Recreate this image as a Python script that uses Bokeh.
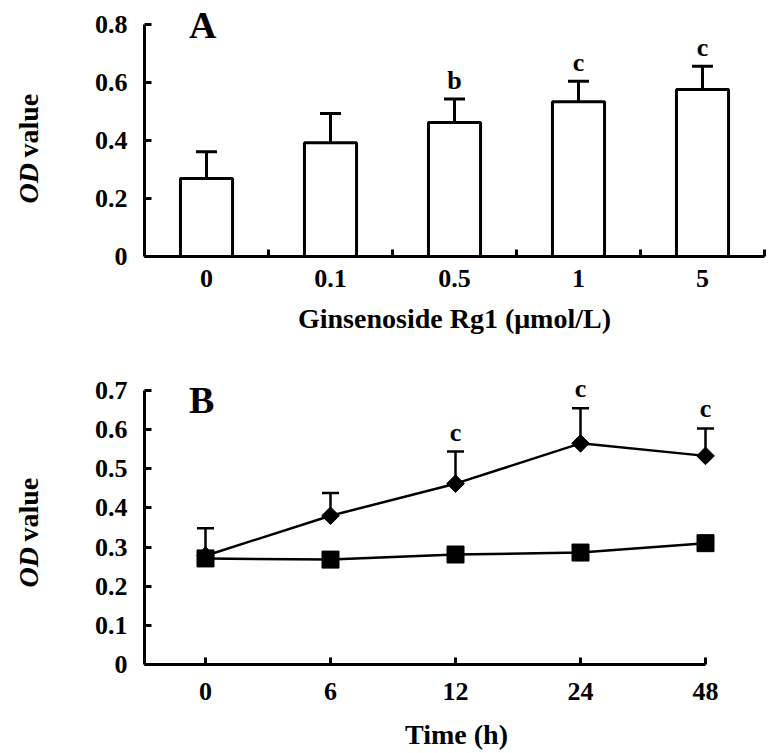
import math
from bokeh.plotting import figure
from bokeh.models import (ColumnDataSource, Whisker, TeeHead, FixedTicker, Label,
                          LabelSet, Range1d)
from bokeh.core.properties import value
from bokeh.layouts import column, row
from bokeh.embed import file_html
from bokeh.resources import INLINE

# ---------------- data ----------------
conc_labels = ["0", "0.1", "0.5", "1", "5"]
od_means_a = [0.269, 0.392, 0.462, 0.534, 0.576]
od_sd_a = [0.092, 0.101, 0.081, 0.070, 0.080]
sig_a = ["", "", "b", "c", "c"]

time_labels = ["0", "6", "12", "24", "48"]
od_rg1 = [0.278, 0.380, 0.462, 0.565, 0.533]
sd_rg1 = [0.070, 0.058, 0.082, 0.090, 0.070]
sig_b = ["", "", "c", "c", "c"]
od_ctrl = [0.271, 0.268, 0.281, 0.286, 0.310]

FONT = "Liberation Serif"
LBL_W = 60
HA = 363
HB = 389
TOP_A, BOT_A = 4, 107
TOP_B, BOT_B = 4, 88


def style_common(p):
    p.outline_line_color = None
    p.xgrid.grid_line_color = None
    p.ygrid.grid_line_color = None
    p.background_fill_color = "white"
    p.border_fill_color = "white"
    for ax in (p.xaxis[0], p.yaxis[0]):
        ax.axis_line_width = 3
        ax.axis_line_color = "black"
        ax.major_tick_line_width = 3
        ax.major_tick_line_color = "black"
        ax.major_tick_in = 7
        ax.major_tick_out = 0
        ax.minor_tick_line_color = None
        ax.major_label_text_font = FONT
        ax.major_label_text_font_style = "bold"
        ax.major_label_text_font_size = "26px"
        ax.major_label_text_color = "black"
        ax.axis_label_text_font = FONT
        ax.axis_label_text_font_style = "bold"
        ax.axis_label_text_font_size = "28px"
        ax.axis_label_text_color = "black"
    p.yaxis[0].major_label_standoff = 17


def ylabel_fig(height, top, bottom, page_top, od_start, value_start):
    # y range in page pixel coordinates (top of frame .. bottom of frame)
    f = figure(width=LBL_W, height=height, output_backend="svg",
               toolbar_location=None, x_range=Range1d(0, LBL_W),
               y_range=Range1d(page_top + height - bottom, page_top + top),
               x_axis_location=None, y_axis_location=None, min_border_left=0,
               min_border_right=0, min_border_top=top, min_border_bottom=bottom)
    f.outline_line_color = None
    f.xgrid.grid_line_color = None
    f.ygrid.grid_line_color = None
    f.text(x=[28], y=[od_start], text=["OD"], angle=math.pi / 2,
           text_align="left", text_baseline="middle",
           text_font=value(FONT), text_font_style="bold italic",
           text_font_size="28px", text_color="black")
    f.text(x=[28], y=[value_start], text=["value"], angle=math.pi / 2,
           text_align="left", text_baseline="middle",
           text_font=value(FONT), text_font_style="bold",
           text_font_size="28px", text_color="black")
    return f


# ---------------- panel A ----------------
nA = len(conc_labels)
xa = list(range(nA))
srcA = ColumnDataSource(dict(
    x=xa, top=od_means_a, upper=[m + s for m, s in zip(od_means_a, od_sd_a)],
    sig=sig_a))

y_top_A = 0.8
pA = figure(width=768 - LBL_W, height=HA, output_backend="svg",
            toolbar_location=None,
            x_range=Range1d(-0.5, nA - 0.5), y_range=Range1d(0, 0.869),
            min_border_left=144 - LBL_W, min_border_right=4,
            min_border_top=TOP_A, min_border_bottom=BOT_A)
style_common(pA)
pA.vbar(x="x", top="top", width=0.42, source=srcA, fill_color="white",
        line_color="black", line_width=3)
pA.add_layout(Whisker(source=srcA, base="x", lower="top", upper="upper",
                      line_width=3, line_color="black", lower_head=None,
                      upper_head=TeeHead(size=21, line_width=3, line_color="black"),
                      level="overlay"))
pA.add_layout(LabelSet(source=srcA, x="x", y="upper", text="sig", y_offset=10,
                       text_align="center", text_baseline="alphabetic",
                       text_font=FONT, text_font_style="bold",
                       text_font_size="26px", text_color="black"))

pA.xaxis.ticker = FixedTicker(ticks=xa, minor_ticks=[i + 0.5 for i in xa])
pA.xaxis.major_label_overrides = {i: lab for i, lab in zip(xa, conc_labels)}
pA.xaxis.major_tick_in = 0
pA.xaxis.minor_tick_line_color = "black"
pA.xaxis.minor_tick_line_width = 3
pA.xaxis.minor_tick_in = 7
pA.xaxis.minor_tick_out = 0
pA.xaxis.major_label_standoff = 13
pA.xaxis.axis_label = "Ginsenoside Rg1 (μmol/L)"
pA.xaxis.axis_label_standoff = 13
yticksA = [0, 0.2, 0.4, 0.6, 0.8]
pA.yaxis.ticker = FixedTicker(ticks=yticksA)
pA.yaxis.bounds = (0, y_top_A)
pA.yaxis.major_label_overrides = {0: "0"}

pA.add_layout(Label(x=-0.03, y=0.80, text="A", text_align="center",
                    text_baseline="alphabetic", text_font=FONT,
                    text_font_style="bold", text_font_size="38px",
                    text_color="black"))

# ---------------- panel B ----------------
nB = len(time_labels)
xb = list(range(nB))
srcR = ColumnDataSource(dict(
    x=xb, y=od_rg1, upper=[m + s for m, s in zip(od_rg1, sd_rg1)], sig=sig_b))
srcC = ColumnDataSource(dict(x=xb, y=od_ctrl))

x0 = -0.488
y_top_B = 0.7
pB = figure(width=768 - LBL_W, height=HB, output_backend="svg",
            toolbar_location=None,
            x_range=Range1d(x0, 4.504), y_range=Range1d(0, 0.7588),
            min_border_left=144 - LBL_W, min_border_right=0,
            min_border_top=TOP_B, min_border_bottom=BOT_B)
style_common(pB)
pB.add_layout(Whisker(source=srcR, base="x", lower="y", upper="upper",
                      line_width=2.5, line_color="black", lower_head=None,
                      upper_head=TeeHead(size=17, line_width=2.5, line_color="black")))
pB.line("x", "y", source=srcC, line_width=2.5, line_color="black")
pB.line("x", "y", source=srcR, line_width=2.5, line_color="black")
pB.scatter("x", "y", source=srcC, marker="square", size=17, fill_color="black",
           line_color="black")
pB.scatter("x", "y", source=srcR, marker="square", size=12.5, angle=math.pi / 4,
           fill_color="black", line_color="black")
pB.add_layout(LabelSet(source=srcR, x="x", y="upper", text="sig", y_offset=11,
                       text_align="center", text_baseline="alphabetic",
                       text_font=FONT, text_font_style="bold",
                       text_font_size="26px", text_color="black"))

pB.xaxis.ticker = FixedTicker(ticks=xb)
pB.xaxis.major_label_overrides = {i: lab for i, lab in zip(xb, time_labels)}
pB.xaxis.bounds = (x0, nB - 1)
pB.xaxis.major_label_standoff = 18
pB.xaxis.axis_label = "Time (h)"
pB.xaxis.axis_label_standoff = 16
yticksB = [0, 0.1, 0.2, 0.3, 0.4, 0.5, 0.6, 0.7]
pB.yaxis.ticker = FixedTicker(ticks=yticksB)
pB.yaxis.bounds = (0, y_top_B)
pB.yaxis.major_label_overrides = {0: "0"}

pB.add_layout(Label(x=-0.03, y=0.677, text="B", text_align="center",
                    text_baseline="alphabetic", text_font=FONT,
                    text_font_style="bold", text_font_size="38px",
                    text_color="black"))

lblA = ylabel_fig(HA, TOP_A, BOT_A, 0, 203, 157)
lblB = ylabel_fig(HB, TOP_B, BOT_B, HA, 587, 541)

layout = column(row(lblA, pA, spacing=0), row(lblB, pB, spacing=0), spacing=0)
open("out.html", "w").write(file_html(layout, INLINE))
